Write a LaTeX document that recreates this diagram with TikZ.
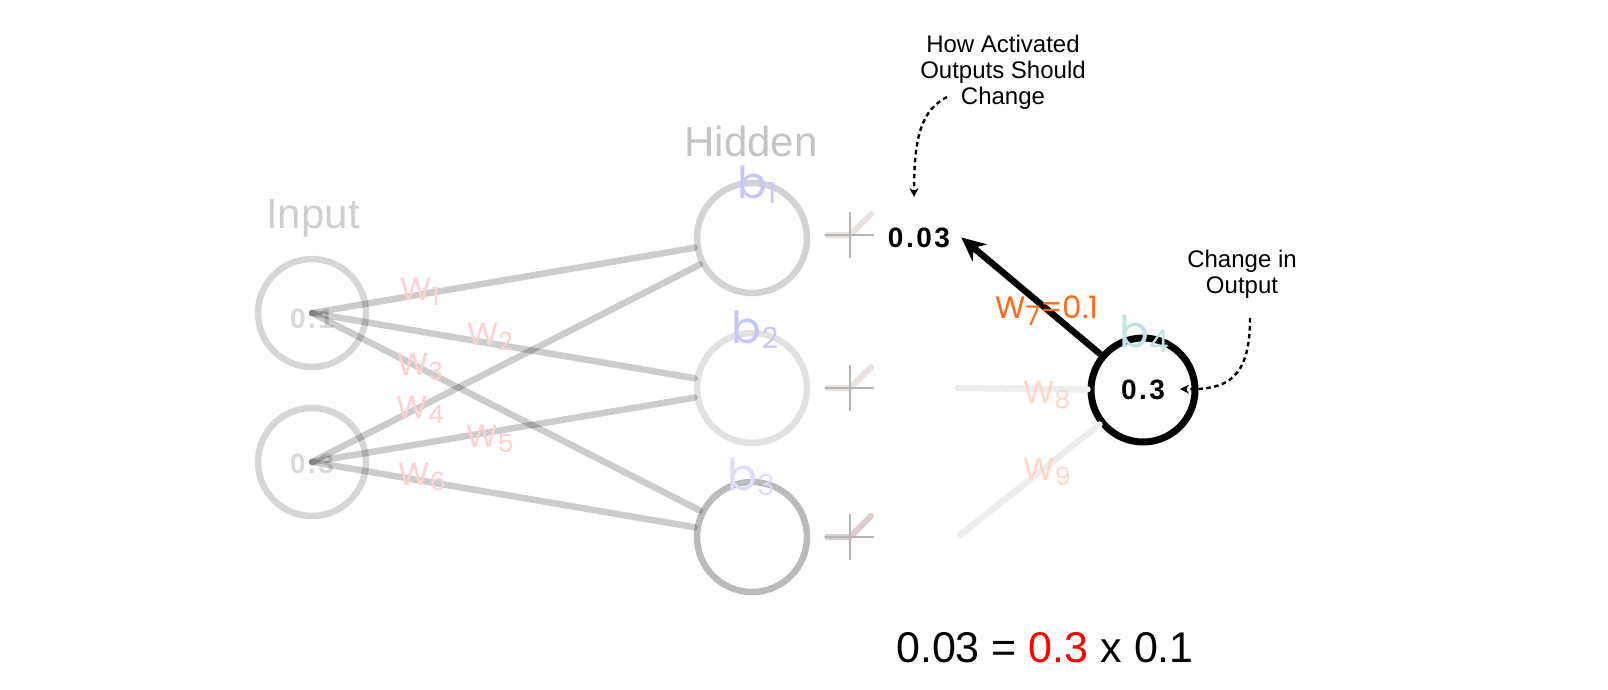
\documentclass[tikz,border=0pt]{standalone}
\usepackage{fontspec}
\setmainfont{Liberation Sans}
\newfontfamily\pop{Poppins}
\newfontfamily\spaced[LetterSpace=9]{Liberation Sans}
\usetikzlibrary{arrows.meta}
\definecolor{inGray}{HTML}{D6D6D6}
\definecolor{hOne}{HTML}{D3D3D3}
\definecolor{hTwo}{HTML}{E2E2E2}
\definecolor{hThree}{HTML}{BBBBBB}
\definecolor{lblGray}{HTML}{CFCFCF}
\definecolor{lblGrayB}{HTML}{C4C4C4}
\definecolor{wPink}{HTML}{FFD0D0}
\definecolor{wSalmon}{HTML}{FFD6C6}
\definecolor{wOrange}{HTML}{FF6A16}
\definecolor{bBlue}{HTML}{C6C6FF}
\definecolor{bBlueL}{HTML}{DCDCFF}
\definecolor{bTeal}{HTML}{C2E2E6}
\definecolor{numGray}{HTML}{D9D9D9}
\definecolor{plusThick}{HTML}{EAE2E0}
\definecolor{plusThickD}{HTML}{DDCDCC}
\definecolor{plusThin}{HTML}{B5B5B5}
\definecolor{fadeLine}{HTML}{EDEDED}
\definecolor{eqRed}{HTML}{FF0000}
\newcommand\fs[1]{\fontsize{#1}{#1}\selectfont}
\newcommand\lsub[3]{\raisebox{-#1pt}{\fs{#2}#3}}
\begin{document}
\begin{tikzpicture}[x=1pt,y=-1pt,
  txt/.style={inner sep=0pt, anchor=base},
  incirc/.style={circle, draw=inGray, line width=6.5pt, minimum size=108pt, inner sep=0pt},
  hidcirc/.style={circle, line width=6.5pt, minimum size=110pt, inner sep=0pt},
  conn/.style={draw=black, draw opacity=0.2, line width=6.5pt, line cap=round},
  wlbl/.style={txt, text=wPink, font=\pop\fs{32}},
  blbl/.style={txt, font=\pop\fs{44}},
  dotarrow/.style={line width=2.4pt, dash pattern=on 4.5pt off 3.5pt, -{Stealth[length=9pt,width=9pt]}},
  note/.style={inner sep=0pt, anchor=north, align=center, font=\fontsize{24}{26}\selectfont}
]
\useasboundingbox (0,0) rectangle (1608,690);

% labels of layers
\node[txt, text=lblGray, font=\fs{42}] (linput) at (313,228) {Input};
\node[txt, text=lblGrayB, font=\fs{42}] (lhidden) at (751,157) {Hidden};

% input values
\node[txt, text=numGray, font=\spaced\bfseries\fs{28}] (v1) at (312,328) {0.1};
\node[txt, text=numGray, font=\spaced\bfseries\fs{28}] (v2) at (312,473) {0.3};

% input nodes
\node[incirc] (i1) at (312,313) {};
\node[incirc] (i2) at (312,462) {};

% hidden nodes
\node[hidcirc, draw=hOne] (h1) at (752,238) {};
\node[hidcirc, draw=hTwo] (h2) at (752,388) {};
\node[hidcirc, draw=hThree] (h3) at (752,537) {};

% connectors input -> hidden
\draw[conn] (i1.center) -- (h1);
\draw[conn] (i1.center) -- (h2);
\draw[conn] (i1.center) -- (h3);
\draw[conn] (i2.center) -- (h1);
\draw[conn] (i2.center) -- (h2);
\draw[conn] (i2.center) -- (h3);

% weight labels
\node[wlbl] (w1) at (420,300) {W\lsub{5}{25}{1}};
\node[wlbl] (w2) at (490,345) {W\lsub{5}{25}{2}};
\node[wlbl] (w3) at (420,375) {W\lsub{5}{25}{3}};
\node[wlbl] (w4) at (420,418) {W\lsub{5}{25}{4}};
\node[wlbl] (w5) at (490,447) {W\lsub{5}{25}{5}};
\node[wlbl] (w6) at (422,485) {W\lsub{5}{25}{6}};

% bias labels
\node[blbl, text=bBlue] (b1) at (757,198) {b\lsub{5}{29}{1}};
\node[blbl, text=bBlue] (b2) at (755,343) {b\lsub{5}{29}{2}};
\node[blbl, text=bBlueL] (b3) at (751,490) {b\lsub{5}{29}{3}};

% plus marks
\foreach \yy/\cc in {235/plusThick, 388/plusThick, 537/plusThickD}{
  \draw[\cc, line width=6pt, line cap=round, line join=round] (827,\yy) -- (850,\yy) -- (871,\yy-21);
  \draw[plusThin, line width=1.3pt] (825,\yy) -- (874,\yy);
  \draw[plusThin, line width=1.3pt] (850,\yy-23) -- (850,\yy+23);
}

% output node
\node[circle, draw=black, line width=7pt, minimum size=104pt, inner sep=0pt,
      font=\spaced\bfseries\fs{28}] (o) at (1143,390) {0.3};
\node[blbl, text=bTeal] (b4) at (1144,347) {b\lsub{5}{31}{4}};

% faded connectors into output
\coordinate (s8) at (958,388);
\coordinate (s9) at (960,535);
\draw[fadeLine, line width=6.5pt, line cap=round] (s8) -- (o);
\draw[fadeLine, line width=6.5pt, line cap=round] (s9) -- (o);
\node[txt, text=wSalmon, font=\pop\fs{32}] (w8) at (1047,403) {W\lsub{5}{25}{8}};
\node[txt, text=wSalmon, font=\pop\fs{32}] (w9) at (1047,480) {W\lsub{5}{25}{9}};

% activated output
\node[txt, font=\spaced\bfseries\fs{28}, inner xsep=11pt] (z) at (919,247) {0.03};
\draw[line width=6.5pt, -{Stealth[length=24pt,width=22pt]}] (o) -- (z.east);
\node[txt, text=wOrange, font=\pop\fs{31}] (w7) at (1047,318) {W\lsub{7}{27}{7}=0.1};

% notes
\node[note] (n1) at (1003,35) {How Activated\\Outputs Should\\Change};
\node[note] (n2) at (1242,250) {Change in\\Output};
\coordinate (c1) at (947,97);
\coordinate (c2) at (914,197);
\draw[dotarrow] (c1) .. controls (922,110) and (914,135) .. (c2);
\coordinate (c3) at (1250,318);
\coordinate (c4) at (1180,389);
\draw[dotarrow] (c3) .. controls (1250,378) and (1228,390) .. (c4);

% equation
\node[txt, font=\fs{43}] (eq) at (1045,662) {0.03 = \textcolor{eqRed}{0.3} x 0.1};
\end{tikzpicture}
\end{document}
